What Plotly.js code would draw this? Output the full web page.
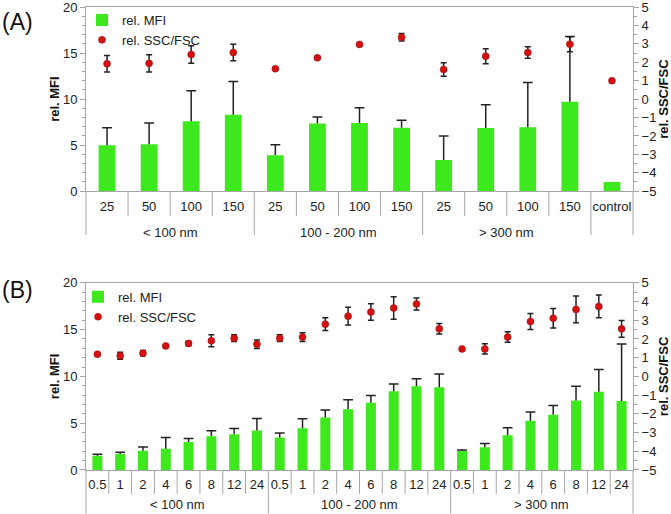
<!DOCTYPE html>
<html><head><meta charset="utf-8">
<script src="https://cdn.plot.ly/plotly-3.0.1.min.js"></script>
<style>html,body{margin:0;padding:0;background:#fff}#chart{width:671px;height:514px}</style>
</head><body><div id="chart"></div>
<script>
// ---------- Panel A data ----------
const catsA = ['25','50','100','150','25','50','100','150','25','50','100','150','control'];
const groupNamesA = ['< 100 nm','100 - 200 nm','> 300 nm'];
const groupSizesA = [4,4,4];            // last category (control) has no group
const mfiA    = [5.0, 5.1, 7.6, 8.3, 3.9, 7.35, 7.4, 6.9, 3.4, 6.85, 6.95, 9.7, 1.0];
const mfiErrA = [1.9, 2.3, 3.3, 3.6, 1.15, 0.7, 1.65, 0.8, 2.6, 2.55, 4.85, 7.1, 0];
const sscA    = [1.92, 1.94, 2.42, 2.53, 1.65, 2.24, 2.97, 3.36, 1.61, 2.33, 2.53, 2.98, 1.0];
const sscErrA = [0.45, 0.47, 0.48, 0.45, 0.05, 0.07, 0.03, 0.2, 0.37, 0.41, 0.31, 0.41, 0];

// ---------- Panel B data ----------
const catsB = ['0.5','1','2','4','6','8','12','24','0.5','1','2','4','6','8','12','24','0.5','1','2','4','6','8','12','24'];
const groupNamesB = ['< 100 nm','100 - 200 nm','> 300 nm'];
const groupSizesB = [8,8,8];
const mfiB    = [1.52, 1.7, 2.05, 2.27, 2.98, 3.6, 3.83, 4.21, 3.47, 4.47, 5.6, 6.5, 7.18, 8.42, 8.96, 8.85, 2.04, 2.43, 3.7, 5.27, 5.9, 7.43, 8.35, 7.36];
const mfiErrB = [0.15, 0.2, 0.4, 1.2, 0.38, 0.6, 0.6, 1.3, 0.47, 1.0, 0.8, 1.0, 0.78, 0.78, 0.78, 1.4, 0.1, 0.4, 0.82, 0.92, 1.0, 1.53, 2.4, 6.1];
const sscB    = [1.19, 1.10, 1.24, 1.63, 1.76, 1.90, 2.04, 1.72, 2.04, 2.10, 2.79, 3.22, 3.44, 3.65, 3.87, 2.54, 1.47, 1.47, 2.10, 2.93, 3.11, 3.58, 3.74, 2.54];
const sscErrB = [0.05, 0.19, 0.14, 0.05, 0.12, 0.32, 0.18, 0.23, 0.18, 0.23, 0.34, 0.47, 0.44, 0.6, 0.32, 0.28, 0.05, 0.27, 0.28, 0.43, 0.52, 0.72, 0.61, 0.45];

// ---------- styling ----------
const GREEN = '#3de81c', RED = '#d41010', ERR = '#222222', AX = '#a6a6a6';
const FONT = 'Liberation Sans, Arial, sans-serif';
const W = 671, H = 514, ML = 86, MR = 38, MT = 5, MB = 44;
const plotH = H - MT - MB;
const py = p => (H - MB - p) / plotH;   // pixel y -> paper y
const px = p => (p - ML) / (W - ML - MR); // pixel x -> paper x
const domA = [py(190), 1];
const domB = [0, py(282)];

function idx(n){ return Array.from({length:n}, (_, i) => i); }
const xA = idx(catsA.length), xB = idx(catsB.length);

function panelTraces(x, mfi, mfiErr, ssc, sscErr, xa, ya, ya2, legend, bw){
  const capX = [], capY = [];
  x.forEach((v, i) => { if (mfiErr[i] > 0) { capX.push(v); capY.push(mfi[i] + mfiErr[i]); } });
  return [
    {type:'bar', x:x, y:mfi, xaxis:xa, yaxis:ya, name:'rel. MFI', legend:legend,
     marker:{color:GREEN, line:{width:0}}, width:bw,
     error_y:{type:'data', symmetric:false, array:mfiErr, arrayminus:mfi.map(()=>0),
              color:ERR, thickness:1.5, width:0}},
    {type:'scatter', mode:'markers', x:capX, y:capY, xaxis:xa, yaxis:ya, showlegend:false,
     hoverinfo:'skip', marker:{symbol:'line-ew', size:7, line:{width:1.5, color:ERR}}},
    {type:'scatter', mode:'markers', x:x, y:ssc, xaxis:xa, yaxis:ya2, name:'rel. SSC/FSC', legend:legend,
     marker:{color:RED, size:7, line:{width:0.5, color:'#901010'}},
     error_y:{type:'data', array:sscErr, color:ERR, thickness:1.5, width:3}}
  ];
}

const data = [
  ...panelTraces(xA, mfiA, mfiErrA, sscA, sscErrA, 'x', 'y', 'y3', 'legend', 0.4),
  ...panelTraces(xB, mfiB, mfiErrB, sscB, sscErrB, 'x2', 'y2', 'y4', 'legend2', 0.44)
];

const tickFont = {family:FONT, size:13, color:'#222'};
const titleFont = {family:FONT, size:13, color:'#111', weight:'bold'};

function xAxis(cats, anchor, tl){
  return {domain:[0,1], anchor:anchor, range:[-0.5, cats.length-0.5], tickvals:idx(cats.length), ticktext:cats,
    showline:true, mirror:true, linecolor:AX, linewidth:1, ticks:'outside', ticklen:tl, tickcolor:'rgba(0,0,0,0)',
    showgrid:false, zeroline:false, tickfont:tickFont, fixedrange:true};
}
function yLeft(dom, anchor){
  return {domain:dom, anchor:anchor, range:[0,20], dtick:5, ticks:'outside', ticklen:5, tickcolor:AX,
    minor:{dtick:1, ticks:'outside', ticklen:3, tickcolor:AX}, ticklabeloverflow:'allow',
    showline:true, linecolor:AX, showgrid:false, zeroline:false, tickfont:tickFont,
    title:{text:'rel. MFI', font:titleFont, standoff:0}};
}
function yRight(overlay, anchor, dom){
  return {overlaying:overlay, side:'right', anchor:anchor, domain:dom, range:[-5,5], dtick:1, ticks:'outside', ticklen:5, tickcolor:AX,
    minor:{dtick:0.5, ticks:'outside', ticklen:3, tickcolor:AX}, ticklabeloverflow:'allow',
    showline:true, linecolor:AX, showgrid:false, zeroline:false, tickfont:tickFont,
    title:{text:'rel. SSC/FSC', font:titleFont, standoff:2}};
}

// dividers and group labels
const shapes = [], annotations = [];
function dividers(n, groupSizes, groupNames, axisY, shortY, longY, labelY){
  const starts = [0]; groupSizes.forEach(s => starts.push(starts[starts.length-1] + s));
  for (let b = 0; b <= n; b++){
    const isLong = starts.includes(b) || b === n;
    shapes.push({type:'line', xref:'paper', yref:'paper', x0:b/n, x1:b/n, y0:axisY, y1:isLong ? longY : shortY,
      line:{color:AX, width:1}});
  }
  groupNames.forEach((g, i) => {
    annotations.push({xref:'paper', yref:'paper', x:(starts[i] + groupSizes[i]/2)/n, y:labelY,
      text:g, showarrow:false, font:{family:FONT, size:13, color:'#222'}, xanchor:'center', yanchor:'middle'});
  });
}
dividers(catsA.length, groupSizesA, groupNamesA, domA[0], py(215), py(234), py(231));
dividers(catsB.length, groupSizesB, groupNamesB, domB[0], py(494), py(514), py(505));

annotations.push({xref:'paper', yref:'paper', x:px(0), y:py(20), xanchor:'left', yanchor:'middle',
  text:'(A)', showarrow:false, font:{family:FONT, size:23, color:'#111'}});
annotations.push({xref:'paper', yref:'paper', x:px(0), y:py(289), xanchor:'left', yanchor:'middle',
  text:'(B)', showarrow:false, font:{family:FONT, size:23, color:'#111'}});

const legFont = {family:FONT, size:13, color:'#222'};
const layout = {
  width:W, height:H, margin:{l:ML, r:MR, t:MT, b:MB}, paper_bgcolor:'#fff', plot_bgcolor:'#fff',
  font:{family:FONT},
  showlegend:true,
  legend:{x:px(82), y:py(3), xanchor:'left', yanchor:'top', bgcolor:'rgba(0,0,0,0)', font:legFont,
          itemwidth:30, tracegroupgap:0},
  legend2:{x:px(78), y:py(281), xanchor:'left', yanchor:'top', bgcolor:'rgba(0,0,0,0)', font:legFont,
          itemwidth:30, tracegroupgap:0},
  xaxis: xAxis(catsA, 'y', 3),
  yaxis: yLeft(domA, 'x'),
  yaxis3: yRight('y', 'x', domA),
  xaxis2: xAxis(catsB, 'y2', 2),
  yaxis2: yLeft(domB, 'x2'),
  yaxis4: yRight('y2', 'x2', domB),
  shapes: shapes, annotations: annotations
};

Plotly.newPlot('chart', data, layout, {staticPlot:true, displayModeBar:false});
</script></body></html>
